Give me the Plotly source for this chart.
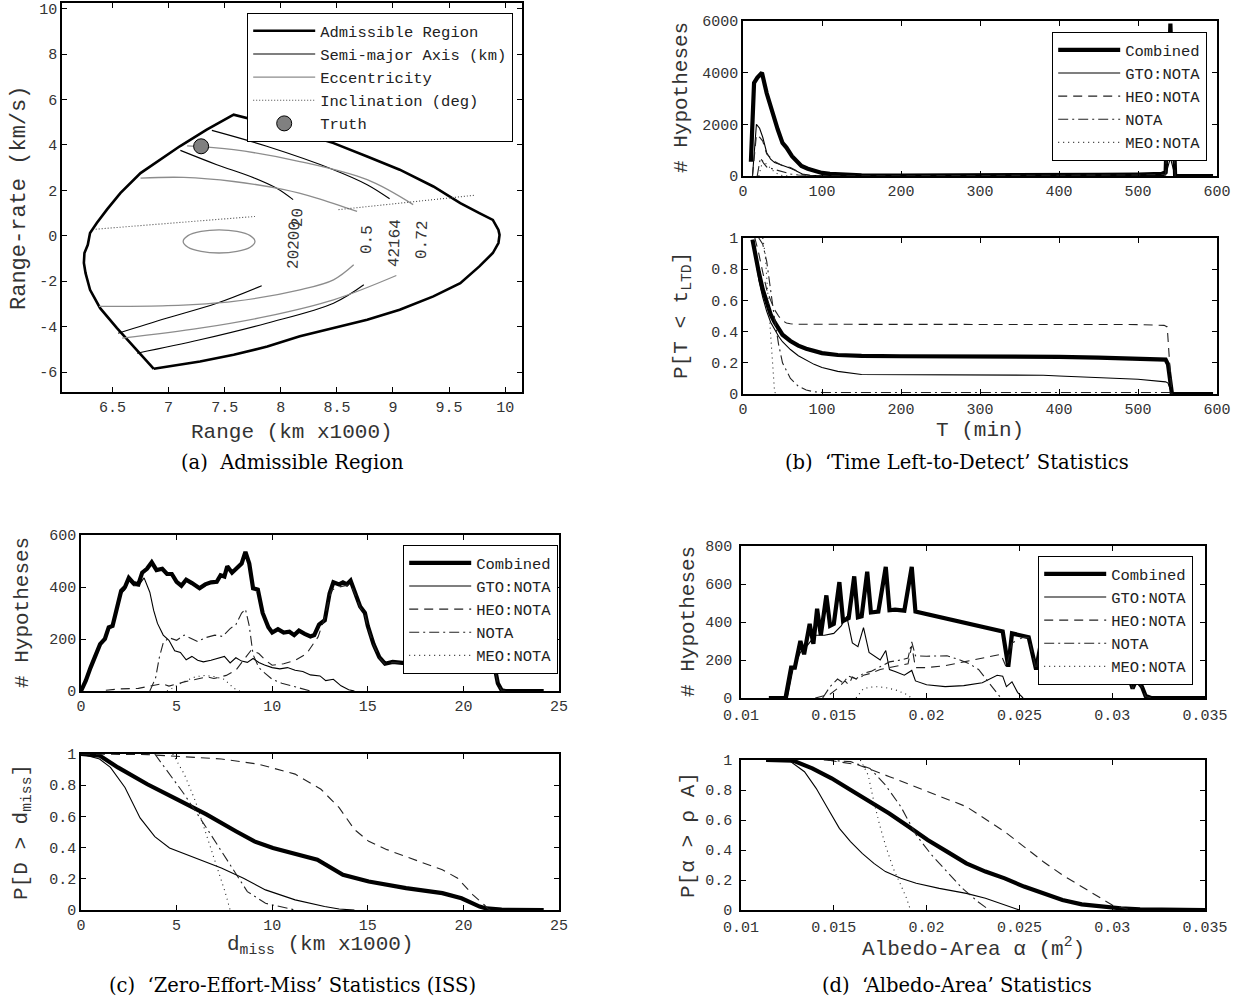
import plotly.graph_objects as go

W, H = 1244, 1003

# ---------------- (a) Admissible Region ----------------
ar_range = [6.868, 6.69, 6.54, 6.39, 6.30, 6.26, 6.245, 6.25, 6.28, 6.30, 6.36, 6.45, 6.57, 6.75, 6.93, 7.10, 7.34, 7.58,
            7.88, 8.17, 8.47, 8.77, 9.06, 9.36, 9.60, 9.77, 9.89, 9.94, 9.95, 9.94, 9.89, 9.77, 9.60, 9.36, 9.06, 8.77,
            8.47, 8.17, 7.88, 7.58, 7.28, 6.98, 6.868]
ar_rate = [-5.86, -4.875, -4.07, -3.19, -2.38, -1.645, -1.20, -0.76, -0.40, 0.12, 0.56, 1.15, 1.88, 2.76, 3.35, 3.94, 4.67, 5.33,
           4.96, 4.52, 4.08, 3.49, 2.91, 2.17, 1.44, 1.00, 0.70, 0.26, 0.04, -0.32, -0.76, -1.35, -2.09, -2.67, -3.26, -3.70,
           -4.07, -4.43, -4.88, -5.24, -5.54, -5.76, -5.86]

sma_range = [7.105, 7.43, 7.73, 7.96, 8.11, None, 7.386, 7.875, 8.47, 8.77, 8.97, None,
             6.55, 6.98, 7.43, 7.83, None, 6.72, 7.28, 7.875, 8.47, 8.74]
sma_rate = [3.76, 3.13, 2.61, 2.10, 1.59, None, 4.64, 3.94, 2.91, 2.25, 1.63, None,
            -4.29, -3.63, -2.97, -2.20, None, -5.17, -4.58, -3.85, -2.97, -2.16]

ecc_range = [7.77, 7.727, 7.61, 7.45, 7.29, 7.173, 7.13, 7.173, 7.29, 7.45, 7.61, 7.727, 7.77, None,
             6.75, 7.135, 7.58, 8.03, 8.32, 8.68, None,
             7.165, 7.58, 8.17, 8.77, 9.18, None,
             6.38, 6.99, 7.58, 8.17, 8.47, 8.65, None,
             6.586, 7.28, 7.875, 8.47, 9.03]
ecc_rate = [-0.25, 0.005, 0.19, 0.26, 0.19, 0.005, -0.25, -0.505, -0.69, -0.76, -0.69, -0.505, -0.25, None,
            2.54, 2.57, 2.39, 2.03, 1.66, 1.07, None,
            3.96, 3.79, 3.27, 2.47, 1.37, None,
            -3.11, -3.08, -2.89, -2.38, -1.94, -1.28, None,
            -4.51, -4.07, -3.55, -2.82, -1.75]

inc_range = [6.35, 7.77, None, 8.515, 9.72]
inc_rate = [0.29, 0.85, None, 1.15, 1.78]

truth_range = [7.29]
truth_rate = [3.94]

lbl_text = ["20", "20200", "0.5", "42164", "0.72"]
lbl_range = [8.15, 8.12, 8.77, 9.02, 9.26]
lbl_rate = [0.80, -0.40, -0.18, -0.32, -0.18]

a_xticks = [6.5, 7, 7.5, 8, 8.5, 9, 9.5, 10]
a_xtext = ["6.5", "7", "7.5", "8", "8.5", "9", "9.5", "10"]
a_yticks = [-6, -4, -2, 0, 2, 4, 6, 8, 10]
a_ytext = ["-6", "-4", "-2", "0", "2", "4", "6", "8", "10"]

# ---------------- (b) Time Left-to-Detect ----------------
bt_comb = [(10, 550), (14, 3600), (18, 3800), (24, 4000), (30, 3200), (37, 2450), (44, 1800), (50, 1280), (55, 1100),
           (62, 770), (68, 550), (74, 390), (82, 280), (90, 190), (100, 120), (110, 80), (125, 45), (150, 25), (200, 12),
           (300, 10), (370, 12), (400, 40), (450, 45), (500, 55), (530, 80), (535, 150), (541, 5900), (547, 0), (595, 0)]
bt_gto = [(12, 0), (17, 2000), (21, 1850), (25, 1500), (30, 900), (35, 650), (40, 520), (50, 420), (55, 380), (60, 300),
          (65, 230), (70, 150), (75, 80), (85, 30), (100, 10), (150, 5), (300, 5), (530, 5), (535, 40), (541, 700), (547, 0)]
bt_heo = [(12, 0), (17, 1600), (21, 1500), (25, 1350), (30, 850), (35, 700), (40, 560), (50, 400), (60, 330), (68, 200),
          (75, 60), (85, 20), (100, 8), (150, 5), (350, 5), (400, 30), (500, 40), (535, 60), (541, 5000), (547, 0)]
bt_nota = [(18, 0), (22, 700), (26, 500), (30, 350), (40, 250), (50, 150), (60, 80), (70, 40), (80, 20), (90, 5), (100, 0)]
bt_meo = [(20, 0), (25, 600), (30, 450), (35, 300), (40, 150), (45, 60), (50, 20), (60, 0)]

bb_comb = [(12, 0.99), (15, 0.9), (20, 0.78), (25, 0.67), (30, 0.59), (35, 0.51), (40, 0.46), (45, 0.42), (50, 0.38),
           (60, 0.34), (70, 0.31), (80, 0.29), (90, 0.275), (100, 0.262), (120, 0.25), (150, 0.244), (200, 0.242),
           (300, 0.242), (360, 0.241), (400, 0.238), (450, 0.233), (500, 0.228), (530, 0.224), (535, 0.22),
           (538, 0.19), (543, 0), (595, 0)]
bb_gto = [(13, 0.98), (16, 0.87), (20, 0.73), (25, 0.62), (30, 0.53), (35, 0.46), (40, 0.41), (45, 0.37), (50, 0.335),
          (60, 0.285), (70, 0.245), (80, 0.215), (90, 0.19), (100, 0.17), (120, 0.145), (150, 0.125), (200, 0.124),
          (300, 0.124), (360, 0.124), (380, 0.12), (400, 0.115), (450, 0.105), (500, 0.095), (535, 0.078),
          (538, 0.07), (543, 0)]
bb_heo = [(15, 1.0), (20, 0.9), (25, 0.78), (30, 0.67), (35, 0.6), (40, 0.54), (45, 0.5), (50, 0.47), (55, 0.455),
          (60, 0.45), (70, 0.447), (100, 0.447), (200, 0.447), (300, 0.446), (400, 0.445), (500, 0.445), (533, 0.44),
          (537, 0.43), (540, 0.2), (543, 0)]
bb_nota = [(20, 1.0), (25, 0.96), (30, 0.85), (35, 0.65), (40, 0.48), (45, 0.32), (50, 0.2), (60, 0.1), (70, 0.05),
           (80, 0.025), (90, 0.014), (100, 0.01), (300, 0.01), (540, 0.01), (543, 0)]
bb_meo = [(25, 1.0), (28, 0.9), (30, 0.75), (32, 0.6), (34, 0.42), (36, 0.25), (38, 0.1), (40, 0.01), (45, 0)]

b_xticks = [0, 100, 200, 300, 400, 500, 600]
b_ytop = [0, 2000, 4000, 6000]
p_ticks = [0, 0.2, 0.4, 0.6, 0.8, 1]
p_text = ["0", "0.2", "0.4", "0.6", "0.8", "1"]

# ---------------- (c) Zero-Effort-Miss ----------------
ct_comb = [(0, 0), (0.25, 40), (0.5, 90), (0.75, 140), (1.0, 180), (1.25, 200), (1.45, 245), (1.65, 250), (1.9, 320),
           (2.1, 385), (2.3, 400), (2.5, 435), (2.75, 415), (3.0, 410), (3.2, 455), (3.45, 470), (3.7, 495), (3.95, 465),
           (4.25, 470), (4.5, 450), (4.75, 450), (5.0, 420), (5.25, 405), (5.5, 428), (5.8, 415), (6.0, 405), (6.2, 395),
           (6.5, 410), (6.8, 418), (7.1, 420), (7.3, 445), (7.5, 440), (7.65, 480), (7.9, 455), (8.2, 475), (8.4, 490),
           (8.6, 535), (8.8, 490), (9.0, 395), (9.25, 390), (9.5, 300), (9.8, 245), (10.0, 225), (10.3, 238),
           (10.6, 225), (10.9, 228), (11.15, 215), (11.4, 232), (11.7, 220), (12.0, 210), (12.2, 215), (12.45, 255),
           (12.75, 272), (13.0, 375), (13.2, 418), (13.5, 410), (13.7, 418), (13.9, 410), (14.1, 425), (14.35, 375),
           (14.6, 325), (14.85, 300), (15.0, 250), (15.3, 180), (15.6, 130), (15.9, 105), (16.3, 112), (16.8, 108),
           (17.3, 108), (17.8, 112), (18.3, 112), (18.8, 120), (19.3, 128), (19.8, 137), (20.0, 145), (20.1, 250),
           (20.4, 400), (21.0, 410), (21.3, 185), (21.6, 105), (21.8, 30), (22.0, 3), (22.2, 0), (24.2, 0)]
ct_gto = [(0, 0), (0.25, 40), (0.5, 90), (0.75, 140), (1.0, 180), (1.25, 200), (1.45, 240), (1.65, 245), (1.9, 315),
          (2.1, 375), (2.3, 390), (2.5, 425), (2.75, 405), (3.0, 405), (3.3, 435), (3.6, 380), (3.8, 310), (4.0, 260),
          (4.3, 215), (4.6, 195), (4.9, 155), (5.2, 148), (5.5, 120), (5.8, 133), (6.1, 118), (6.4, 112), (6.8, 118),
          (7.2, 125), (7.5, 133), (7.8, 108), (8.1, 128), (8.4, 115), (8.7, 110), (9.0, 125), (9.3, 110), (9.6, 100),
          (10.0, 90), (10.4, 85), (10.8, 90), (11.2, 80), (11.6, 75), (12.0, 62), (12.5, 58), (12.8, 40), (13.2, 45),
          (13.6, 20), (14.0, 5), (14.3, 0)]
ct_heo = [(1.3, 3), (2.0, 8), (3.0, 10), (3.9, 22), (4.25, 28), (4.6, 19), (5.4, 35), (6.2, 48), (6.6, 54), (6.95, 48),
          (7.6, 60), (8.1, 80), (8.5, 118), (8.9, 157), (9.3, 144), (9.65, 118), (10.0, 99), (10.6, 105), (11.2, 118),
          (11.8, 144), (12.4, 208), (12.7, 272), (13.1, 388), (13.5, 400), (14.1, 410), (14.35, 370), (14.6, 320),
          (14.85, 295), (15.0, 245), (15.3, 178), (15.6, 128), (15.9, 103), (16.3, 110), (17.3, 106), (18.3, 110),
          (19.3, 126), (19.8, 135), (20.0, 143), (20.1, 245), (20.4, 395), (21.0, 405), (21.3, 182), (21.6, 102),
          (21.8, 28), (22.0, 2), (22.2, 0)]
ct_nota = [(3.6, 0), (3.9, 50), (4.1, 130), (4.3, 185), (4.6, 205), (5.0, 195), (5.4, 215), (5.8, 200), (6.1, 190),
           (6.5, 205), (7.0, 215), (7.4, 210), (7.8, 240), (8.1, 255), (8.4, 300), (8.6, 315), (8.8, 250), (9.0, 140),
           (9.3, 90), (9.6, 70), (10.0, 45), (10.5, 30), (11.0, 20), (11.5, 8), (12.0, 0)]
ct_meo = [(4.5, 0), (5.0, 20), (5.5, 40), (6.0, 55), (6.5, 60), (7.0, 55), (7.5, 45), (8.0, 10), (8.3, 0)]

cb_comb = [(0, 1.0), (0.97, 0.99), (1.93, 0.914), (3.47, 0.806), (5.0, 0.71), (6.56, 0.613), (8.1, 0.505), (9.07, 0.44),
           (10.04, 0.398), (11.0, 0.366), (12.36, 0.323), (13.7, 0.226), (15.05, 0.183), (17.0, 0.14), (18.9, 0.108),
           (19.9, 0.075), (20.85, 0.022), (21.2, 0.01), (21.6, 0.006), (22.0, 0.002), (24.2, 0.0)]
cb_gto = [(0, 1.0), (0.97, 0.968), (1.54, 0.914), (2.3, 0.785), (3.09, 0.59), (3.86, 0.47), (4.63, 0.398), (5.79, 0.344),
          (7.34, 0.269), (8.5, 0.204), (9.65, 0.129), (11.2, 0.065), (12.74, 0.022), (13.5, 0.006), (14.3, 0.0)]
cb_heo = [(0, 1.0), (3.5, 0.996), (7.34, 0.968), (9.27, 0.935), (11.2, 0.871), (12.55, 0.774), (13.5, 0.656),
          (14.3, 0.516), (15.05, 0.44), (16.0, 0.387), (17.2, 0.333), (18.9, 0.258), (19.7, 0.204), (20.5, 0.097),
          (21.1, 0.032), (21.3, 0.006), (21.5, 0.0)]
cb_nota = [(3.86, 1.0), (4.25, 0.935), (5.4, 0.742), (6.56, 0.527), (7.7, 0.312), (8.7, 0.118), (9.65, 0.043),
           (10.8, 0.011), (11.2, 0.0)]
cb_meo = [(4.8, 1.0), (5.4, 0.871), (5.98, 0.699), (6.56, 0.484), (7.14, 0.269), (7.53, 0.118), (7.8, 0.0)]

c_xticks = [0, 5, 10, 15, 20, 25]
c_ytop = [0, 200, 400, 600]

# ---------------- (d) Albedo-Area ----------------
dt_comb = [(0.0115, 0), (0.0124, 0), (0.0127, 160), (0.0129, 160), (0.0132, 300), (0.0134, 230), (0.0137, 390),
           (0.0139, 285), (0.0141, 470), (0.0143, 330), (0.0146, 540), (0.0148, 380), (0.0150, 390), (0.0153, 610),
           (0.0155, 405), (0.0158, 420), (0.0161, 640), (0.0163, 425), (0.0165, 430), (0.0168, 665), (0.0170, 450),
           (0.0174, 455), (0.0178, 690), (0.0180, 462), (0.0183, 465), (0.0188, 460), (0.0192, 690), (0.0194, 455),
           (0.0241, 350), (0.0244, 165), (0.0246, 340), (0.0255, 320), (0.0259, 150), (0.0262, 310), (0.0269, 280),
           (0.0273, 130), (0.0276, 270), (0.0283, 230), (0.0287, 100), (0.0290, 200), (0.0297, 180), (0.0301, 80),
           (0.0304, 145), (0.0309, 110), (0.0311, 50), (0.0313, 95), (0.0316, 60), (0.0318, 10), (0.0321, 0),
           (0.0350, 0)]
dt_gto = [(0.0125, 0), (0.0128, 150), (0.0132, 240), (0.0136, 280), (0.0140, 330), (0.0145, 330), (0.0150, 340),
          (0.0154, 380), (0.0157, 430), (0.0160, 290), (0.0163, 270), (0.0166, 370), (0.0169, 240), (0.0172, 220),
          (0.0175, 200), (0.0178, 250), (0.0180, 150), (0.0183, 140), (0.0188, 120), (0.0192, 145), (0.0194, 90),
          (0.0200, 70), (0.0210, 60), (0.0220, 65), (0.0230, 80), (0.0238, 120), (0.0241, 115), (0.0243, 60),
          (0.0246, 85), (0.0249, 30), (0.0252, 0)]
dt_heo = [(0.0140, 0), (0.0148, 20), (0.0152, 50), (0.0156, 90), (0.0158, 70), (0.0160, 110), (0.0163, 95),
          (0.0166, 120), (0.0170, 130), (0.0175, 150), (0.0180, 160), (0.0186, 170), (0.0190, 180), (0.0192, 275),
          (0.0194, 160), (0.0200, 160), (0.0210, 170), (0.0220, 190), (0.0230, 210), (0.0240, 230), (0.0243, 160),
          (0.0246, 290), (0.0252, 320), (0.0255, 318), (0.0259, 148), (0.0262, 308), (0.0269, 278), (0.0273, 128),
          (0.0276, 268), (0.0283, 228), (0.0287, 98), (0.0290, 198), (0.0297, 178), (0.0301, 78), (0.0304, 143),
          (0.0309, 108), (0.0311, 48), (0.0313, 93), (0.0316, 58), (0.0318, 8), (0.0321, 0)]
dt_nota = [(0.0144, 0), (0.0148, 60), (0.0152, 100), (0.0155, 80), (0.0158, 115), (0.0162, 100), (0.0166, 130),
           (0.0170, 140), (0.0175, 165), (0.0180, 190), (0.0186, 200), (0.0190, 210), (0.0192, 295), (0.0194, 222),
           (0.0200, 220), (0.0211, 222), (0.0218, 200), (0.0223, 180), (0.0228, 150), (0.0233, 90), (0.0238, 25),
           (0.0240, 0)]
dt_meo = [(0.0162, 0), (0.0166, 50), (0.0172, 60), (0.0178, 55), (0.0184, 40), (0.0189, 20), (0.0192, 0)]

db_comb = [(0.01135, 1.0), (0.0128, 0.996), (0.01384, 0.944), (0.01488, 0.878), (0.01591, 0.8), (0.01695, 0.722),
           (0.01799, 0.644), (0.01902, 0.556), (0.02006, 0.467), (0.0211, 0.389), (0.02214, 0.311), (0.02317, 0.256),
           (0.02421, 0.211), (0.02525, 0.156), (0.02629, 0.111), (0.02732, 0.067), (0.02836, 0.038), (0.0294, 0.022),
           (0.03046, 0.011), (0.0315, 0.004), (0.0350, 0.0)]
db_gto = [(0.01135, 1.0), (0.0126, 0.996), (0.01342, 0.922), (0.01405, 0.811), (0.01467, 0.678), (0.0153, 0.544),
          (0.0159, 0.456), (0.01653, 0.378), (0.01716, 0.311), (0.01778, 0.256), (0.01861, 0.211), (0.01944, 0.178),
          (0.02068, 0.144), (0.02214, 0.111), (0.02317, 0.078), (0.0240, 0.044), (0.02483, 0.007), (0.0250, 0.0)]
db_heo = [(0.01467, 1.0), (0.01633, 0.967), (0.0180, 0.889), (0.02006, 0.789), (0.02214, 0.689), (0.02421, 0.522),
          (0.02629, 0.322), (0.02732, 0.233), (0.02836, 0.156), (0.0294, 0.078), (0.0300, 0.033), (0.0308, 0.007),
          (0.0310, 0.0)]
db_nota = [(0.01446, 1.0), (0.01591, 0.989), (0.01695, 0.944), (0.01778, 0.833), (0.01861, 0.689), (0.01944, 0.5),
           (0.02027, 0.367), (0.0211, 0.256), (0.02193, 0.144), (0.02276, 0.056), (0.02338, 0.0)]
db_meo = [(0.01643, 1.0), (0.01685, 0.9), (0.01716, 0.722), (0.01747, 0.567), (0.01778, 0.433), (0.0182, 0.278),
          (0.01861, 0.167), (0.01892, 0.078), (0.01913, 0.0)]

d_xticks = [0.01, 0.015, 0.02, 0.025, 0.03, 0.035]
d_xtext = ["0.01", "0.015", "0.02", "0.025", "0.03", "0.035"]
d_ytop = [0, 200, 400, 600, 800]

series_names = ["Combined", "GTO:NOTA", "HEO:NOTA", "NOTA", "MEO:NOTA"]

# ---------------- styles ----------------
MONO = "Liberation Mono"
TICKFONT = dict(family=MONO, size=15, color="#333")
TITLEFONT = dict(family=MONO, size=21, color="#333")
CAPFONT = dict(family="DejaVu Serif", size=19.5, color="black")

line_styles = [
    dict(color="black", width=4.2),
    dict(color="black", width=1.1),
    dict(color="#222", width=1.1, dash="9px,6px"),
    dict(color="#222", width=1.1, dash="10px,4px,2px,4px"),
    dict(color="#222", width=1.1, dash="1px,4px"),
]


def px_x(p):
    return p / W


def px_y(p):
    return 1 - p / H


def split(pairs):
    return [p[0] for p in pairs], [p[1] for p in pairs]


fig = go.Figure()

# (a)
fig.add_trace(go.Scatter(x=ar_range, y=ar_rate, mode="lines", name="Admissible Region",
                         line=dict(color="black", width=2.6), xaxis="x", yaxis="y", legend="legend"))
fig.add_trace(go.Scatter(x=sma_range, y=sma_rate, mode="lines", name="Semi-major Axis (km)",
                         line=dict(color="black", width=1.1, shape="spline"), xaxis="x", yaxis="y", legend="legend"))
fig.add_trace(go.Scatter(x=ecc_range, y=ecc_rate, mode="lines", name="Eccentricity",
                         line=dict(color="#8c8c8c", width=1.3, shape="spline"), xaxis="x", yaxis="y", legend="legend"))
fig.add_trace(go.Scatter(x=inc_range, y=inc_rate, mode="lines", name="Inclination (deg)",
                         line=dict(color="#444", width=1.1, dash="1px,2px"), xaxis="x", yaxis="y", legend="legend"))
fig.add_trace(go.Scatter(x=truth_range, y=truth_rate, mode="markers", name="Truth",
                         marker=dict(size=15, color="#808080", line=dict(color="black", width=1)),
                         xaxis="x", yaxis="y", legend="legend"))

panels = [
    ("x2", "y2", [bt_comb, bt_gto, bt_heo, bt_nota, bt_meo], "legend2", True),
    ("x3", "y3", [bb_comb, bb_gto, bb_heo, bb_nota, bb_meo], "legend2", False),
    ("x4", "y4", [ct_comb, ct_gto, ct_heo, ct_nota, ct_meo], "legend3", True),
    ("x5", "y5", [cb_comb, cb_gto, cb_heo, cb_nota, cb_meo], "legend3", False),
    ("x6", "y6", [dt_comb, dt_gto, dt_heo, dt_nota, dt_meo], "legend4", True),
    ("x7", "y7", [db_comb, db_gto, db_heo, db_nota, db_meo], "legend4", False),
]
for xa, ya, sers, lg, show in panels:
    for name, pairs, st in zip(series_names, sers, line_styles):
        xs, ys = split(pairs)
        fig.add_trace(go.Scatter(x=xs, y=ys, mode="lines", name=name, line=st, xaxis=xa, yaxis=ya,
                                 legend=lg, showlegend=show))


def axis(dom, rng, tv, tt, anchor, standoff=0):
    d = dict(domain=dom, range=rng, tickvals=tv, ticktext=tt, ticks="inside", ticklen=5, tickwidth=1,
             tickcolor="black", mirror="ticks", showline=True, linecolor="black", linewidth=1.6,
             showgrid=False, zeroline=False, tickfont=TICKFONT, anchor=anchor, fixedrange=True)
    if standoff:
        d["ticklabelstandoff"] = standoff
    return d


def strs(v):
    return [str(t) for t in v]


xa_dom = [px_x(62), px_x(522)]
xb_dom = [px_x(743), px_x(1217)]
xc_dom = [px_x(81), px_x(559)]
xd_dom = [px_x(741), px_x(1205)]

layout = dict(
    width=W, height=H, margin=dict(l=0, r=0, t=0, b=0, autoexpand=False),
    paper_bgcolor="white", plot_bgcolor="white", showlegend=True,
    xaxis=axis(xa_dom, [6.05, 10.15], a_xticks, a_xtext, "y"),
    yaxis=axis([px_y(392), px_y(3)], [-6.88, 10.25], a_yticks, a_ytext, "x"),
    xaxis2=axis(xb_dom, [0, 600], b_xticks, strs(b_xticks), "y2"),
    yaxis2=axis([px_y(176), px_y(21)], [0, 6000], b_ytop, strs(b_ytop), "x2"),
    xaxis3=axis(xb_dom, [0, 600], b_xticks, strs(b_xticks), "y3"),
    yaxis3=axis([px_y(394), px_y(238)], [0, 1], p_ticks, p_text, "x3"),
    xaxis4=axis(xc_dom, [0, 25], c_xticks, strs(c_xticks), "y4"),
    yaxis4=axis([px_y(691), px_y(535)], [0, 600], c_ytop, strs(c_ytop), "x4"),
    xaxis5=axis(xc_dom, [0, 25], c_xticks, strs(c_xticks), "y5"),
    yaxis5=axis([px_y(910), px_y(754)], [0, 1], p_ticks, p_text, "x5"),
    xaxis6=axis(xd_dom, [0.01, 0.035], d_xticks, d_xtext, "y6", 2),
    yaxis6=axis([px_y(698), px_y(546)], [0, 800], d_ytop, strs(d_ytop), "x6", 4),
    xaxis7=axis(xd_dom, [0.01, 0.035], d_xticks, d_xtext, "y7", 2),
    yaxis7=axis([px_y(910), px_y(760)], [0, 1], p_ticks, p_text, "x7", 4),
)


def legend(xr, yt, size):
    return dict(x=px_x(xr), y=px_y(yt), xanchor="right", yanchor="top", bgcolor="white", bordercolor="black",
                borderwidth=1.2, font=dict(family=MONO, size=size, color="#222"), tracegroupgap=0, itemwidth=62,
                traceorder="normal")


layout["legend"] = legend(513, 13, 15.5)
layout["legend2"] = legend(1207, 32, 15.5)
layout["legend3"] = legend(558, 545, 15.5)
layout["legend4"] = legend(1193, 556, 15.5)

ann = []
for t, xv, yv in zip(lbl_text, lbl_range, lbl_rate):
    ann.append(dict(x=xv, y=yv, xref="x", yref="y", text=t, showarrow=False, textangle=-88,
                    font=dict(family=MONO, size=16, color="#333")))


def title(text, xpx, ypx, angle=0, font=TITLEFONT):
    ann.append(dict(x=px_x(xpx), y=px_y(ypx), xref="paper", yref="paper", text=text, showarrow=False,
                    textangle=angle, font=font, xanchor="center", yanchor="middle"))


title("Range-rate (km/s)", 20, 198, -90, dict(family=MONO, size=22, color="#333"))
title("Range (km x1000)", 292, 432)
title("# Hypotheses", 682, 98, -90)
title("P[T &lt; t<sub>LTD</sub>]", 682, 316, -90)
title("T (min)", 980, 431)
title("# Hypotheses", 22, 613, -90)
title("P[D &gt; d<sub>miss</sub>]", 22, 832, -90)
title("d<sub>miss</sub> (km x1000)", 320, 945)
title("# Hypotheses", 688, 622, -90)
title("P[α &gt; ρ A]", 688, 835, -90)
title("Albedo-Area α (m<sup>2</sup>)", 973, 947)

title("(a)  Admissible Region", 292, 462, font=CAPFONT)
title("(b)  ‘Time Left-to-Detect’ Statistics", 957, 462, font=CAPFONT)
title("(c)  ‘Zero-Effort-Miss’ Statistics (ISS)", 292, 985, font=CAPFONT)
title("(d)  ‘Albedo-Area’ Statistics", 957, 985, font=CAPFONT)

layout["annotations"] = ann
fig.update_layout(**layout)
fig.write_html("out.html", config={"displayModeBar": False},
               post_script="document.body.style.margin='0px';document.body.style.overflow='hidden';")
